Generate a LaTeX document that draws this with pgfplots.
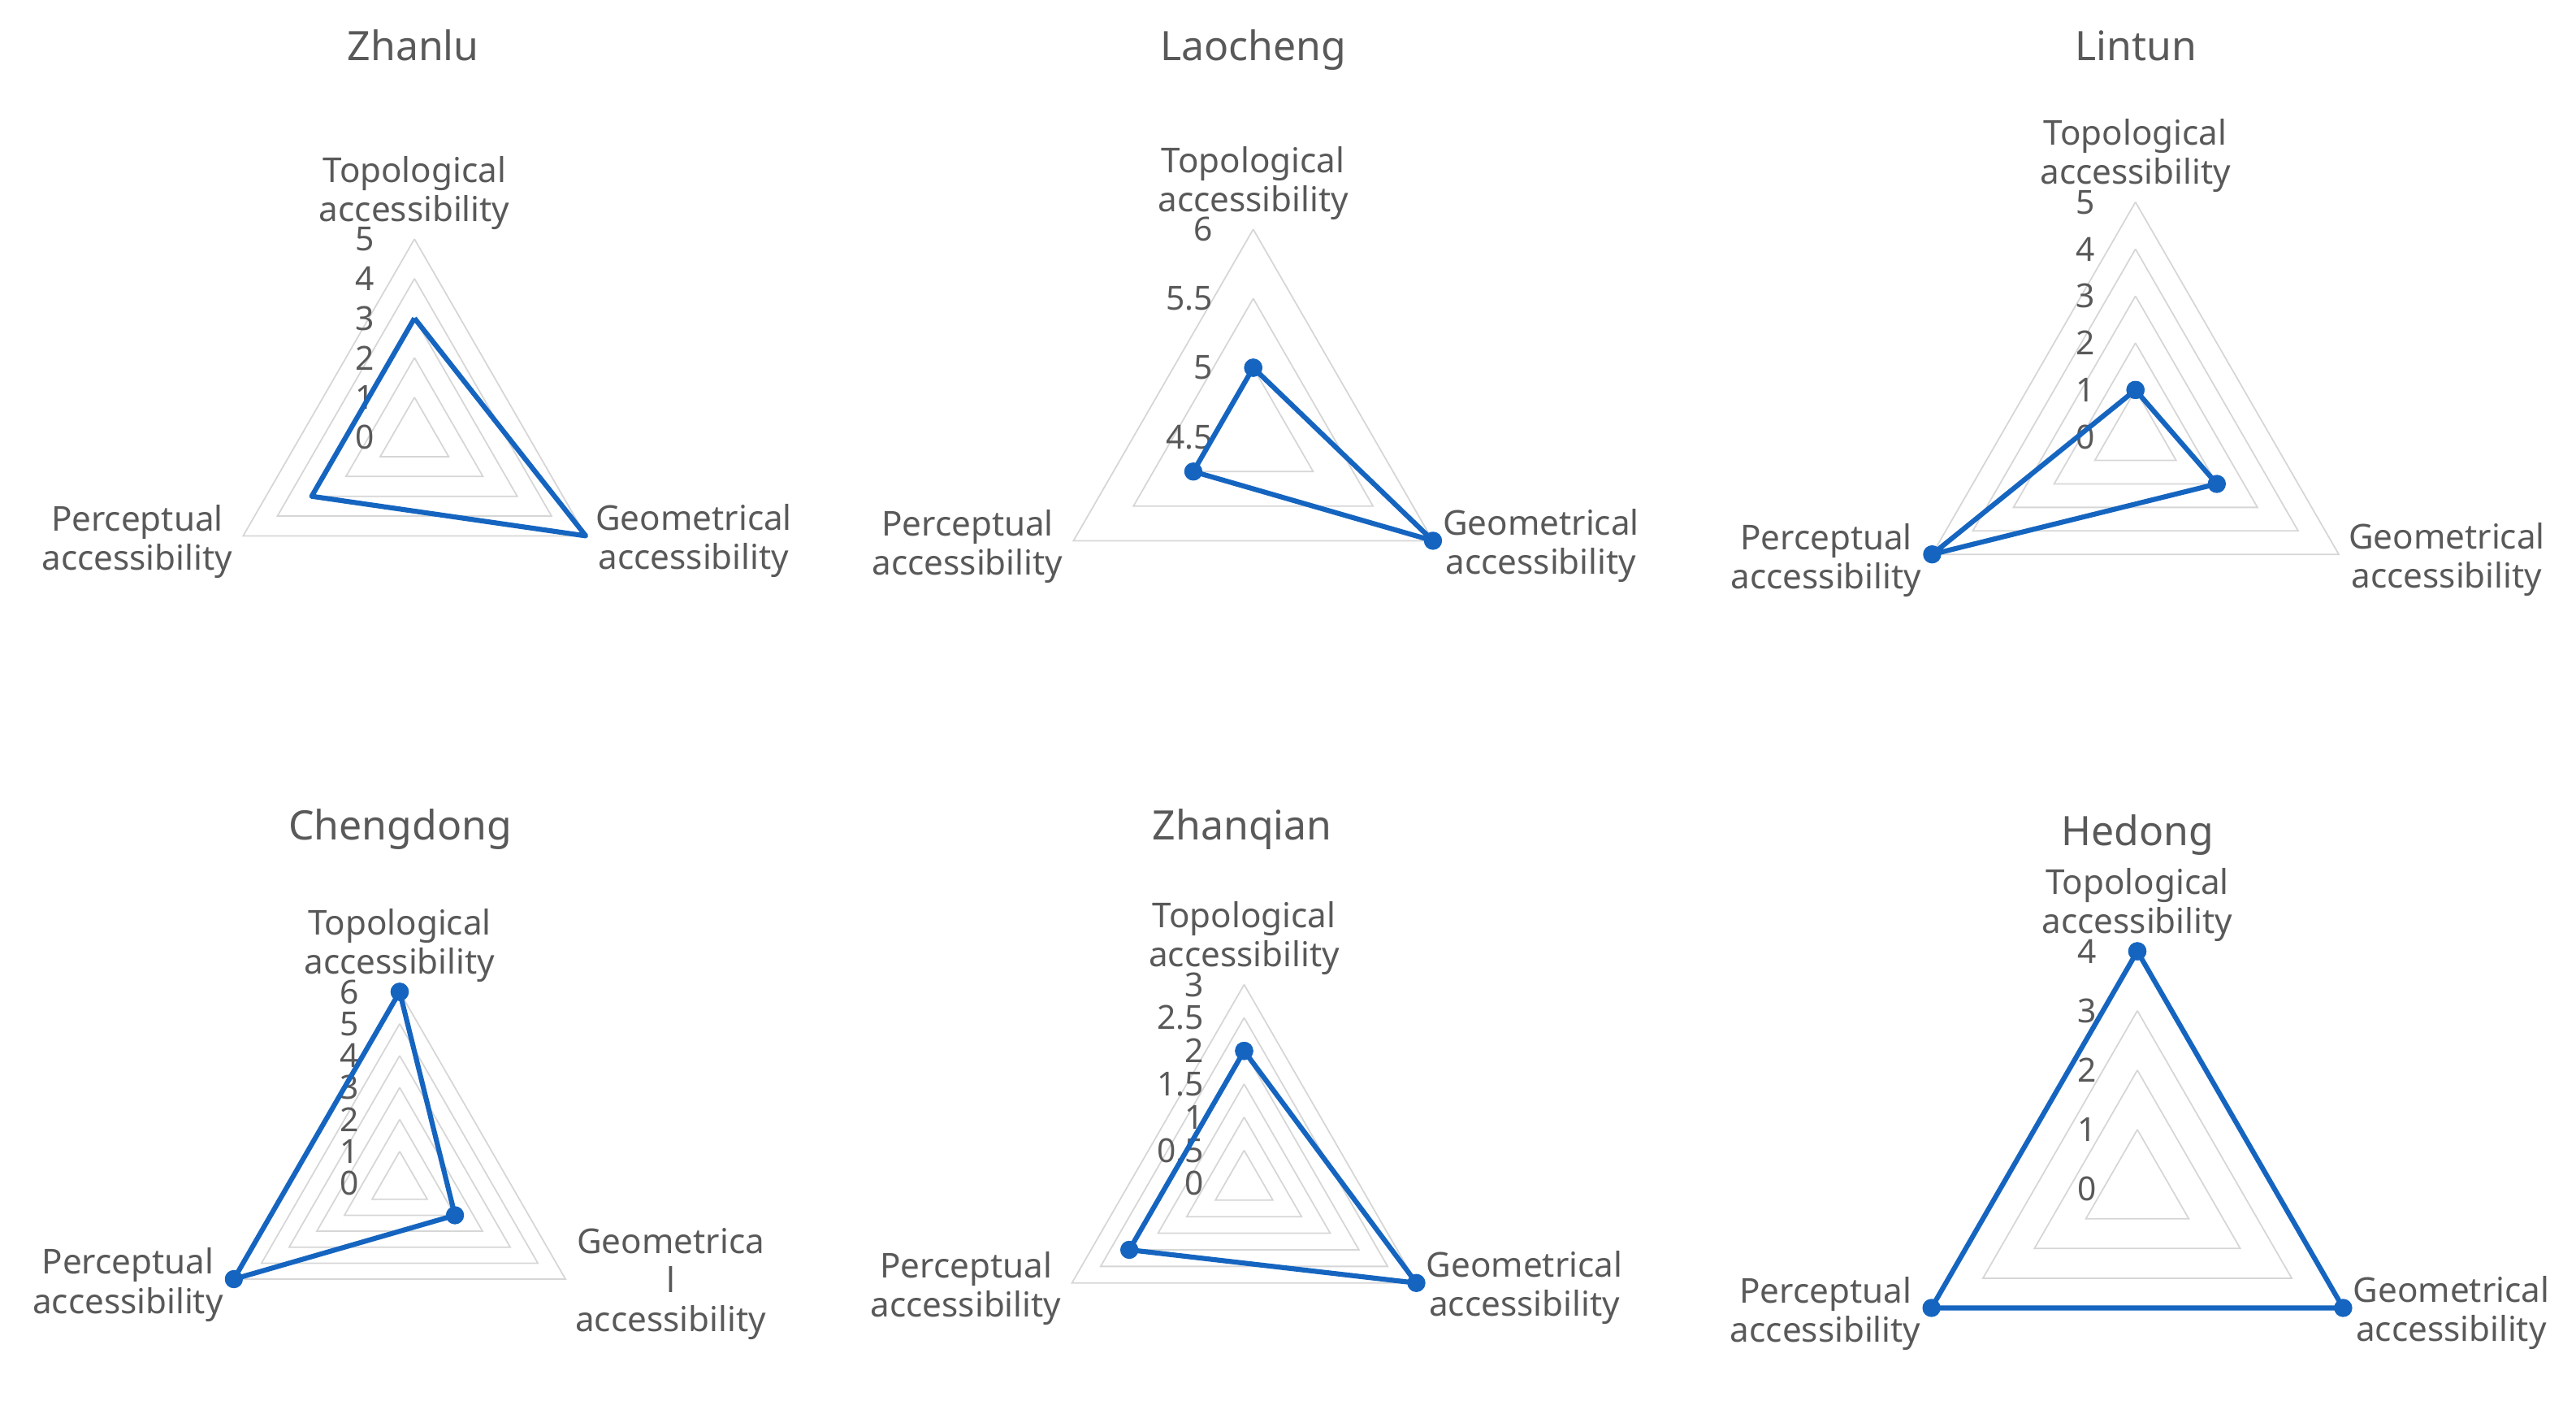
\documentclass[border=0pt]{standalone}
\usepackage{fontspec}
\setmainfont{Noto Sans}
\usepackage{pgfplots}
\pgfplotsset{compat=1.18}
\usepgfplotslibrary{polar}

\definecolor{txt}{HTML}{595959}
\definecolor{grd}{HTML}{D6D6D6}
\definecolor{ser}{RGB}{21,101,192}

\newcommand\catfont{\fontsize{12pt}{13.7pt}\selectfont}
\newcommand\tickfont{\fontsize{11.6pt}{13pt}\selectfont}
\newcommand\titlefont{\fontsize{14.2pt}{16pt}\selectfont}

\pgfplotsset{
  radar/.style={hide axis, scale only axis, clip=false, anchor=center,
    xmin=-#1, xmax=#1, ymin=-#1, ymax=#1},
  gridtri/.style={grd, line width=0.5pt, data cs=polar, mark=none, forget plot},
  series/.style={ser, line width=1.75pt, data cs=polar, line join=round,
    mark=*, mark size=2.3pt, mark options={solid, fill=ser, draw=ser}},
}
\tikzset{
  cat/.style={font=\catfont, text=txt, align=center, inner sep=0pt},
  topl/.style={cat, anchor=south, yshift=0.11cm},
  leftl/.style={cat, anchor=east, xshift=-0.125cm, yshift=-0.07cm},
  rightl/.style={cat, anchor=west, xshift=0.115cm, yshift=-0.06cm},
  tick/.style={font=\tickfont, text=txt, anchor=east, inner sep=0pt, xshift=-0.49cm},
  ttl/.style={font=\titlefont, text=txt, anchor=base, inner sep=0pt},
}

\begin{document}
\begin{tikzpicture}
\useasboundingbox (0,0) rectangle (31.71cm,17.24cm);

% titles
\node[ttl] at (5.086cm,16.499cm) {Zhanlu};
\node[ttl] at (15.427cm,16.499cm) {Laocheng};
\node[ttl] at (26.294cm,16.499cm) {Lintun};
\node[ttl] at (4.927cm,6.90cm) {Chengdong};
\node[ttl] at (15.293cm,6.90cm) {Zhanqian};
\node[ttl] at (26.311cm,6.83cm) {Hedong};

% Zhanlu
\begin{axis}[radar=5, at={(5.102cm,11.863cm)}, width=4.87cm, height=4.87cm]
  \pgfplotsinvokeforeach{1,2,3,4,5}{\addplot[gridtri] coordinates {(90,#1) (210,#1) (330,#1) (90,#1)};}
  \pgfplotsinvokeforeach{0,1,2,3,4,5}{\node[tick] at (axis cs:0,#1) {#1};}
  \addplot[series, mark=none] table[x=a, y=v] {
a v
90 3
330 5
210 3
90 3
};
  \node[topl] at (axis cs:0,5) {Topological\\accessibility};
  \node[leftl] at (axis cs:-4.330,-2.5) {Perceptual\\accessibility};
  \node[rightl] at (axis cs:4.330,-2.5) {Geometrical\\accessibility};
\end{axis}

% Laocheng (radial axis starts at 4.5)
\begin{axis}[radar=1.5, at={(15.427cm,11.863cm)}, width=5.11cm, height=5.11cm]
  \pgfplotsinvokeforeach{0.5,1,1.5}{\addplot[gridtri] coordinates {(90,#1) (210,#1) (330,#1) (90,#1)};}
  \node[tick] at (axis cs:0,0) {4.5};
  \node[tick] at (axis cs:0,0.5) {5};
  \node[tick] at (axis cs:0,1) {5.5};
  \node[tick] at (axis cs:0,1.5) {6};
  \addplot[series] table[x=a, y expr=\thisrow{v}-4.5] {
a v
90 5
330 6
210 5
90 5
};
  \node[topl] at (axis cs:0,1.5) {Topological\\accessibility};
  \node[leftl] at (axis cs:-1.299,-0.75) {Perceptual\\accessibility};
  \node[rightl] at (axis cs:1.299,-0.75) {Geometrical\\accessibility};
\end{axis}

% Lintun
\begin{axis}[radar=5, at={(26.287cm,11.863cm)}, width=5.78cm, height=5.78cm]
  \pgfplotsinvokeforeach{1,2,3,4,5}{\addplot[gridtri] coordinates {(90,#1) (210,#1) (330,#1) (90,#1)};}
  \pgfplotsinvokeforeach{0,1,2,3,4,5}{\node[tick] at (axis cs:0,#1) {#1};}
  \addplot[series] table[x=a, y=v] {
a v
90 1
330 2
210 5
90 1
};
  \node[topl] at (axis cs:0,5) {Topological\\accessibility};
  \node[leftl] at (axis cs:-4.330,-2.5) {Perceptual\\accessibility};
  \node[rightl] at (axis cs:4.330,-2.5) {Geometrical\\accessibility};
\end{axis}

% Chengdong
\begin{axis}[radar=6, at={(4.92cm,2.678cm)}, width=4.714cm, height=4.714cm]
  \pgfplotsinvokeforeach{1,2,3,4,5,6}{\addplot[gridtri] coordinates {(90,#1) (210,#1) (330,#1) (90,#1)};}
  \pgfplotsinvokeforeach{0,1,2,3,4,5,6}{\node[tick] at (axis cs:0,#1) {#1};}
  \addplot[series] table[x=a, y=v] {
a v
90 6
330 2
210 6
90 6
};
  \node[topl] at (axis cs:0,6) {Topological\\accessibility};
  \node[leftl] at (axis cs:-5.196,-3) {Perceptual\\accessibility};
  \node[rightl] at (axis cs:5.196,-3) {Geometrica\\l\\accessibility};
\end{axis}

% Zhanqian
\begin{axis}[radar=3, at={(15.315cm,2.676cm)}, width=4.896cm, height=4.896cm]
  \pgfplotsinvokeforeach{0.5,1,1.5,2,2.5,3}{\addplot[gridtri] coordinates {(90,#1) (210,#1) (330,#1) (90,#1)};}
  \pgfplotsinvokeforeach{0,0.5,1,1.5,2,2.5,3}{\node[tick] at (axis cs:0,#1) {#1};}
  \addplot[series] table[x=a, y=v] {
a v
90 2
330 3
210 2
90 2
};
  \node[topl] at (axis cs:0,3) {Topological\\accessibility};
  \node[leftl] at (axis cs:-2.598,-1.5) {Perceptual\\accessibility};
  \node[rightl] at (axis cs:2.598,-1.5) {Geometrical\\accessibility};
\end{axis}

% Hedong
\begin{axis}[radar=4, at={(26.31cm,2.608cm)}, width=5.852cm, height=5.852cm]
  \pgfplotsinvokeforeach{1,2,3,4}{\addplot[gridtri] coordinates {(90,#1) (210,#1) (330,#1) (90,#1)};}
  \pgfplotsinvokeforeach{0,1,2,3,4}{\node[tick] at (axis cs:0,#1) {#1};}
  \addplot[series] table[x=a, y=v] {
a v
90 4
330 4
210 4
90 4
};
  \node[topl] at (axis cs:0,4) {Topological\\accessibility};
  \node[leftl] at (axis cs:-3.464,-2) {Perceptual\\accessibility};
  \node[rightl] at (axis cs:3.464,-2) {Geometrical\\accessibility};
\end{axis}
\end{tikzpicture}
\end{document}
